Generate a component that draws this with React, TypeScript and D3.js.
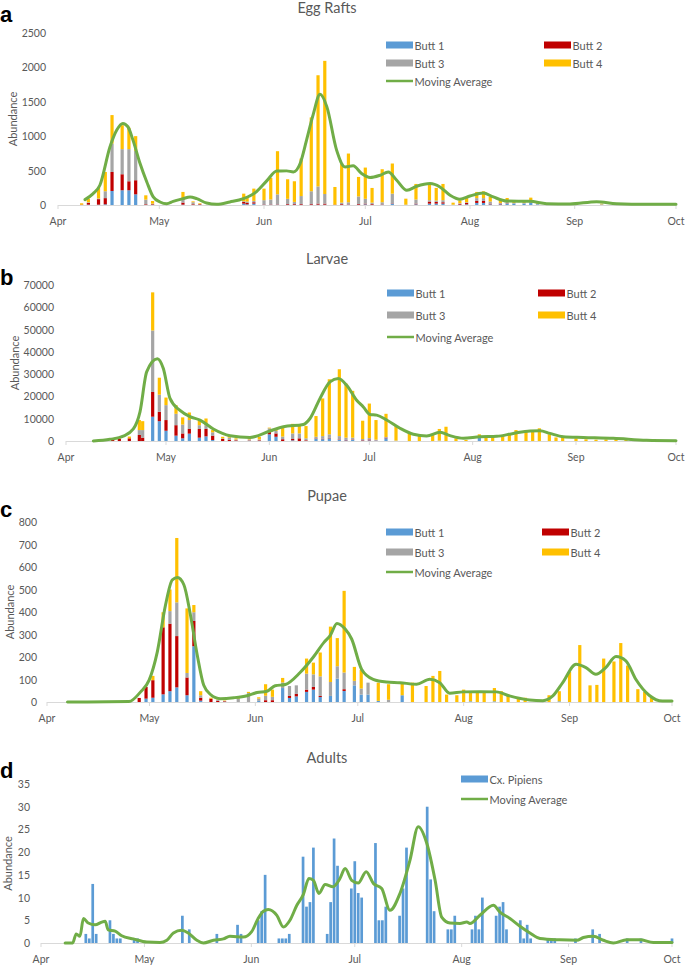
import * as d3 from "d3";

// season runs from 1 April to 1 October; all days are offsets from 1 April
const seasonStart = new Date(Date.UTC(2017, 3, 1));
const seasonEnd = new Date(Date.UTC(2017, 9, 1));

const buttNames = ["Butt 1", "Butt 2", "Butt 3", "Butt 4"];
const buttColors = ["#5B9BD5", "#C00000", "#A5A5A5", "#FFC000"];
const maColor = "#70AD47";
const textColor = "#595959";

// ---- a: egg rafts
const eggDays = [7, 9, 12, 14, 16, 19, 21, 23, 26, 28, 37, 40, 42, 55, 56, 58, 61, 63, 65, 68, 70, 72, 75, 77, 79, 82, 84, 86, 89, 91, 93, 96, 99, 103, 106, 110, 112, 114, 117, 119, 121, 124, 126, 128, 131, 133, 135, 138, 140, 142, 161, 166];
const eggB1 = [0, 5, 5, 10, 204, 214, 214, 155, 0, 0, 5, 0, 0, 20, 10, 20, 5, 5, 5, 5, 5, 5, 5, 5, 5, 0, 5, 5, 5, 10, 5, 5, 20, 0, 10, 20, 20, 20, 0, 5, 10, 30, 30, 10, 10, 20, 20, 20, 30, 10, 5, 5];
const eggB2 = [5, 25, 80, 90, 276, 233, 131, 205, 10, 10, 30, 10, 10, 25, 20, 20, 5, 5, 5, 10, 10, 10, 10, 15, 15, 5, 10, 5, 10, 10, 10, 5, 5, 0, 10, 30, 25, 20, 0, 10, 20, 30, 30, 10, 10, 5, 0, 0, 5, 0, 0, 0];
const eggB3 = [0, 10, 10, 100, 414, 365, 467, 427, 68, 10, 40, 30, 5, 10, 20, 20, 60, 70, 145, 75, 30, 115, 185, 250, 140, 0, 20, 30, 110, 70, 20, 30, 140, 5, 60, 20, 20, 30, 5, 10, 10, 40, 40, 30, 10, 20, 10, 10, 20, 10, 5, 5];
const eggB4 = [20, 52, 167, 280, 413, 348, 310, 214, 63, 38, 115, 13, 10, 110, 57, 178, 168, 314, 627, 284, 300, 545, 1073, 1616, 1935, 257, 568, 708, 283, 454, 213, 480, 438, 87, 226, 226, 183, 236, 29, 43, 62, 90, 99, 67, 38, 57, 14, 14, 52, 14, 10, 10];
const eggMaDays = [8, 10.4, 12.4, 15.4, 17.4, 19.2, 20.7, 22.2, 24.3, 26.3, 28.2, 30.2, 32.2, 34.1, 37, 39.1, 41.1, 44, 47, 50.9, 54.9, 58.8, 61.8, 64.8, 67.7, 69.7, 71.7, 73.6, 75.6, 77.6, 79.6, 82.5, 85, 87.4, 89.9, 92.4, 95.4, 97.8, 100.3, 103.3, 106.2, 110.2, 113.1, 116.1, 119, 122, 125.9, 128.9, 132.9, 139.8, 144.7, 151.6, 159.5, 165.4, 174.3, 183];
const eggMa = [78, 165, 287, 846, 1089, 1186, 1137, 943, 603, 335, 117, 44, 19, 53, 92, 117, 92, 29, 10, 44, 92, 195, 350, 495, 496, 481, 603, 943, 1320, 1609, 1430, 797, 554, 569, 457, 399, 433, 481, 360, 214, 272, 311, 262, 141, 83, 131, 175, 117, 58, 53, 19, 15, 49, 19, 10, 10];

// ---- b: larvae
const larvaDays = [14, 16, 19, 22, 23, 26, 28, 30, 33, 35, 37, 40, 42, 44, 47, 49, 51, 55, 58, 61, 63, 65, 68, 70, 72, 75, 77, 79, 82, 84, 86, 89, 91, 93, 96, 99, 103, 106, 110, 112, 114, 117, 120, 124, 126, 128, 131, 133, 135, 138, 140, 142, 145, 147, 149, 153, 156, 159, 162, 165, 168];
const larvaB1 = [0, 0, 0, 0, 0, 10900, 8900, 4600, 2400, 1200, 3300, 1500, 2100, 450, 0, 0, 0, 0, 0, 3000, 1900, 0, 300, 0, 0, 900, 800, 1200, 500, 300, 500, 200, 300, 200, 1200, 0, 0, 0, 0, 0, 0, 0, 0, 1500, 0, 0, 0, 0, 0, 0, 0, 0, 0, 0, 0, 0, 0, 0, 0, 0, 0];
const larvaB2 = [450, 1000, 1200, 2700, 1500, 11100, 4200, 4800, 4700, 2200, 2100, 3900, 3300, 1950, 900, 500, 300, 200, 300, 1200, 1500, 800, 600, 1200, 300, 200, 200, 200, 200, 200, 200, 200, 400, 100, 300, 0, 0, 0, 0, 0, 0, 0, 0, 0, 0, 0, 0, 0, 0, 0, 0, 0, 0, 0, 0, 0, 0, 0, 0, 0, 0];
const larvaB3 = [0, 0, 0, 2200, 3400, 27600, 7700, 6700, 5100, 4000, 4000, 1700, 1700, 1500, 300, 1000, 400, 500, 400, 1500, 1100, 1200, 2500, 2200, 900, 800, 1200, 1600, 1500, 1000, 800, 500, 600, 300, 300, 200, 0, 0, 0, 200, 0, 0, 0, 0, 0, 0, 0, 0, 0, 0, 0, 0, 0, 0, 0, 0, 0, 0, 0, 0, 0];
const larvaB4 = [0, 200, 800, 4500, 4000, 17100, 7600, 3400, 3900, 3200, 3400, 2300, 3000, 1000, 700, 900, 500, 500, 1200, 300, 400, 4000, 4300, 4000, 5500, 9300, 16900, 24700, 30000, 24300, 21000, 8200, 15500, 8800, 10400, 6500, 3900, 2400, 3000, 5200, 6400, 1200, 500, 1500, 2400, 2400, 2400, 3000, 4900, 4800, 4600, 5700, 3000, 1600, 1600, 1200, 750, 600, 700, 800, 500];
const larvaMaDays = [8.2, 13.2, 17.2, 20.2, 22.2, 24.2, 27.4, 29.2, 31.2, 34.2, 37.2, 40.2, 44.2, 49.2, 55.2, 61.2, 65.2, 71.2, 73.2, 76.2, 79.2, 81.7, 84.2, 87.2, 89.2, 91.2, 93.2, 96.2, 100.2, 104.2, 108.2, 112.2, 115.2, 119.2, 124.2, 129.2, 134.2, 139.2, 142.2, 145.2, 149.2, 155.2, 164.2, 174.2, 183];
const larvaMa = [0, 750, 2200, 5400, 13100, 31000, 36900, 32500, 19100, 13700, 10900, 9400, 5400, 2400, 1600, 4500, 6400, 7400, 10100, 19100, 26500, 28000, 25000, 18300, 15300, 11900, 11600, 9400, 5700, 3000, 2200, 3900, 2400, 1200, 1900, 2100, 3400, 4500, 4600, 3400, 1900, 1600, 1200, 300, 100];

// ---- c: pupae
const pupaDays = [27, 29, 31, 34, 36, 38, 41, 43, 45, 48, 50, 52, 56, 59, 62, 64, 66, 69, 71, 73, 76, 78, 80, 83, 85, 87, 90, 92, 94, 97, 100, 104, 107, 111, 113, 115, 117, 120, 122, 124, 126, 128, 131, 133, 135, 138, 140, 145, 147, 150, 153, 156, 159, 161, 163, 166, 168, 170, 173, 175, 177];
const pupaB1 = [0, 15, 19, 34, 48, 65, 30, 248, 6, 0, 0, 0, 0, 0, 5, 0, 0, 62, 18, 25, 45, 55, 22, 27, 104, 49, 74, 33, 33, 5, 0, 30, 0, 0, 0, 0, 0, 0, 0, 3, 0, 0, 3, 0, 0, 0, 0, 0, 0, 3, 0, 0, 0, 0, 0, 0, 0, 0, 0, 0, 0];
const pupaB2 = [18, 52, 78, 298, 300, 228, 79, 112, 13, 15, 5, 3, 0, 0, 0, 8, 8, 0, 9, 11, 10, 12, 5, 0, 0, 8, 0, 0, 0, 0, 0, 0, 0, 0, 0, 0, 0, 0, 0, 0, 0, 0, 0, 0, 0, 0, 0, 0, 0, 0, 0, 0, 0, 0, 0, 0, 0, 0, 0, 0, 0];
const pupaB3 = [0, 0, 0, 0, 56, 150, 20, 39, 11, 0, 5, 2, 15, 40, 10, 20, 15, 25, 44, 38, 71, 56, 87, 62, 55, 74, 20, 27, 53, 0, 10, 0, 0, 0, 0, 0, 0, 0, 0, 0, 0, 0, 0, 0, 0, 0, 0, 0, 0, 0, 0, 0, 0, 0, 0, 0, 0, 0, 0, 0, 0];
const pupaB4 = [0, 0, 19, 67, 96, 286, 287, 32, 18, 4, 2, 2, 3, 5, 6, 51, 32, 20, 0, 0, 67, 52, 106, 246, 125, 363, 62, 83, 0, 81, 69, 56, 86, 71, 116, 138, 33, 30, 55, 42, 48, 45, 59, 48, 33, 19, 19, 5, 30, 45, 134, 253, 74, 76, 193, 180, 262, 162, 57, 45, 27];
const pupaMaDays = [6, 24, 27.4, 29.9, 32.3, 34.7, 36.7, 38.2, 40.1, 42, 44, 45.9, 47.9, 50.8, 54.7, 58.6, 61.5, 64.4, 66.8, 69.8, 74.1, 78, 81.1, 82.9, 84.9, 87.3, 89.2, 92.1, 95.5, 99.4, 103.3, 108.2, 112.1, 115, 117.9, 121.8, 126.7, 131.6, 135.4, 141.3, 145.2, 148.1, 151, 154.9, 157.8, 160.7, 163.6, 166.6, 169.5, 172.4, 176.3, 180.2, 183];
const pupaMa = [0, 2, 45, 97, 223, 431, 543, 553, 520, 387, 208, 74, 33, 15, 19, 28, 42, 48, 72, 78, 131, 200, 265, 295, 349, 324, 280, 146, 101, 89, 86, 79, 101, 86, 39, 45, 46, 45, 27, 9, 6, 27, 86, 168, 153, 123, 153, 202, 183, 101, 30, 4, 4];

// ---- d: adults
const adultDays = [13, 14, 15, 16, 20, 21, 22, 23, 27, 28, 41, 43, 51, 57, 58, 63, 64, 65, 69, 70, 71, 72, 76, 77, 78, 79, 83, 84, 85, 86, 90, 91, 92, 93, 97, 98, 99, 100, 104, 105, 106, 112, 113, 114, 118, 119, 120, 125, 126, 127, 128, 132, 133, 134, 135, 139, 140, 141, 142, 147, 148, 149, 155, 160, 162, 170, 174, 183];
const adultCount = [2, 1, 13, 2, 5, 2, 1, 1, 1, 1, 6, 3, 2, 4, 2, 5, 7, 15, 1, 1, 1, 2, 19, 8, 9, 21, 2, 9, 23, 17, 12, 18, 11, 10, 22, 5, 5, 8, 6, 12, 21, 30, 14, 7, 3, 3, 6, 3, 6, 3, 10, 6, 8, 9, 3, 5, 1, 4, 1, 1, 1, 1, 1, 3, 2, 1, 1, 1];
const adultMaDays = [7, 9.2, 10.2, 11.3, 12.3, 13.7, 15.7, 17.6, 18.6, 19.5, 21.5, 23.4, 26.8, 30.7, 34.5, 36.5, 38.4, 40.8, 42.7, 45.2, 47.1, 50, 52.9, 54.8, 58.7, 61.1, 62.9, 64.5, 65.9, 68.4, 70.3, 72.2, 74.2, 76.1, 77.7, 79, 80.6, 82.4, 84.7, 86.7, 88.2, 90.1, 92, 94.3, 96.4, 98.8, 101.2, 104.1, 107, 109.4, 111.9, 114.3, 116.2, 118.6, 121.5, 123.5, 124.4, 127.3, 131.2, 133.1, 136, 138.9, 141.8, 144.7, 150.5, 155.4, 157.3, 160.2, 163.1, 166, 169.9, 173.7, 177.6, 183];
const adultMa = [0, 0, 2, 1.5, 5.4, 4.4, 4, 4.6, 4.8, 2.9, 2.6, 1.6, 0.9, 0.2, 0.1, 0.6, 2.2, 2.8, 2.2, 0.6, 0, 0.6, 0.9, 1.5, 1.3, 2.5, 5.3, 7, 7.4, 6.1, 3.5, 5, 8.3, 10.7, 14.2, 13.8, 10.9, 12.9, 12.4, 14.2, 16.4, 13.8, 13.2, 15.7, 13.1, 12, 7.2, 10.9, 18.2, 25.6, 21.9, 13.8, 5.7, 4.4, 4.3, 4.6, 4.3, 6.1, 8.3, 6.8, 5.4, 3.7, 2.2, 1, 0.7, 0.6, 1.2, 1.5, 0.6, 0, 0.7, 0.7, 0.1, 0.1];

const toDate = (d: number) => new Date(seasonStart.getTime() + d * 864e5);
const font = "Lato, 'Open Sans', sans-serif";

type Layout = {
  letter: string;
  title: string;
  x0: number;
  x1: number;
  yBase: number;
  yTop: number;
  yMax: number;
  step: number;
  tickRight: number;
  labelX: number;
  titleY: number;
  letterY: number;
  monthY: number;
  rows: number[];
  cols: number[];
  barW: number;
};

type PanelProps = {
  L: Layout;
  days: number[];
  series: number[][];
  names: string[];
  colors: string[];
  maDays: number[];
  ma: number[];
};

function Panel({ L, days, series, names, colors, maDays, ma }: PanelProps) {
  const x = d3.scaleUtc().domain([seasonStart, seasonEnd]).range([L.x0, L.x1]);
  const y = d3.scaleLinear().domain([0, L.yMax]).range([L.yBase, L.yTop]);

  const keys = series.map((_, k) => "s" + k);
  const rows = days.map((d, i) => {
    const r: any = { day: d };
    series.forEach((s, k) => (r["s" + k] = s[i]));
    return r;
  });
  const stacked = d3.stack<any>().keys(keys)(rows);

  const line = d3
    .line<number>()
    .x((_, i) => x(toDate(maDays[i])))
    .y((d) => y(d))
    .curve(d3.curveMonotoneX);

  const months = d3.utcMonth.range(seasonStart, d3.utcDay.offset(seasonEnd, 1));
  const fmt = d3.utcFormat("%b");
  const yTicks = d3.range(0, L.yMax + L.step / 2, L.step);

  // legend entries: bar series then the moving average, filled row by row
  const legend = [
    ...names.map((n, k) => ({ name: n, color: colors[k], kind: "bar" })),
    { name: "Moving Average", color: maColor, kind: "line" },
  ];
  const nCols = L.cols.length;

  return (
    <g>
      <text x={0} y={L.letterY} fontFamily="'Liberation Sans', Arial, sans-serif" fontWeight="bold" fontSize={22} fill="#000">
        {L.letter}
      </text>
      <text x={327} y={L.titleY} textAnchor="middle" fontFamily={font} fontSize={14.5} fill={textColor}>
        {L.title}
      </text>
      <text
        transform={`translate(${L.labelX},${(L.yBase + L.yTop) / 2}) rotate(-90)`}
        textAnchor="middle"
        dominantBaseline="central"
        fontFamily={font}
        fontSize={11}
        fill={textColor}
      >
        Abundance
      </text>

      {yTicks.map((t) => (
        <text key={t} x={L.tickRight} y={y(t)} textAnchor="end" dominantBaseline="central" fontFamily={font} fontSize={10.5} fill={textColor}>
          {t}
        </text>
      ))}

      {stacked.map((layer, k) => (
        <g key={layer.key} fill={colors[k]}>
          {layer.map((d, i) =>
            d[1] > d[0] ? (
              <rect
                key={i}
                x={x(toDate(d.data.day)) - L.barW / 2}
                y={y(d[1])}
                width={L.barW}
                height={y(d[0]) - y(d[1])}
              />
            ) : null
          )}
        </g>
      ))}

      <line x1={L.x0} x2={L.x1} y1={L.yBase + 0.5} y2={L.yBase + 0.5} stroke="#D9D9D9" />
      {months.map((m) => (
        <g key={m.getTime()}>
          <line x1={x(m)} x2={x(m)} y1={L.yBase} y2={L.yBase + 4} stroke="#D9D9D9" />
          <text x={x(m)} y={L.monthY} textAnchor="middle" dominantBaseline="central" fontFamily={font} fontSize={10.5} fill={textColor}>
            {fmt(m)}
          </text>
        </g>
      ))}

      <path d={line(ma) || ""} fill="none" stroke={maColor} strokeWidth={3} strokeLinejoin="round" strokeLinecap="round" />

      {legend.map((e, i) => {
        const cx = L.cols[i % nCols];
        const cy = L.rows[Math.floor(i / nCols)];
        return (
          <g key={e.name}>
            {e.kind === "bar" ? (
              <rect x={cx} y={cy - 3.5} width={27} height={7} fill={e.color} />
            ) : (
              <line x1={cx} x2={cx + 27} y1={cy} y2={cy} stroke={e.color} strokeWidth={2.5} />
            )}
            <text x={cx + 28.5} y={cy} dominantBaseline="central" fontFamily={font} fontSize={11} fill={textColor}>
              {e.name}
            </text>
          </g>
        );
      })}
    </g>
  );
}

const eggLayout: Layout = {
  letter: "a", title: "Egg Rafts", x0: 58, x1: 676, yBase: 205, yTop: 33, yMax: 2500, step: 500,
  tickRight: 46, labelX: 12, titleY: 13, letterY: 21.5, monthY: 221, rows: [45, 63, 81], cols: [386, 544], barW: 3.2,
};
const larvaLayout: Layout = {
  letter: "b", title: "Larvae", x0: 66, x1: 676, yBase: 441, yTop: 285, yMax: 70000, step: 10000,
  tickRight: 54, labelX: 14, titleY: 264, letterY: 285, monthY: 457, rows: [293, 315, 337], cols: [387, 538], barW: 3.2,
};
const pupaLayout: Layout = {
  letter: "c", title: "Pupae", x0: 47, x1: 672, yBase: 702, yTop: 522, yMax: 800, step: 100,
  tickRight: 37, labelX: 9, titleY: 501, letterY: 517, monthY: 718, rows: [532, 552, 572], cols: [386, 542], barW: 3.2,
};
const adultLayout: Layout = {
  letter: "d", title: "Adults", x0: 41, x1: 672, yBase: 943, yTop: 784, yMax: 35, step: 5,
  tickRight: 30, labelX: 7, titleY: 763, letterY: 778, monthY: 959, rows: [779, 799], cols: [461], barW: 2.7,
};

export default function App() {
  return (
    <svg width={685} height={966} style={{ position: "absolute", left: 0, top: 0, background: "#fff" }}>
      <Panel L={eggLayout} days={eggDays} series={[eggB1, eggB2, eggB3, eggB4]} names={buttNames} colors={buttColors} maDays={eggMaDays} ma={eggMa} />
      <Panel L={larvaLayout} days={larvaDays} series={[larvaB1, larvaB2, larvaB3, larvaB4]} names={buttNames} colors={buttColors} maDays={larvaMaDays} ma={larvaMa} />
      <Panel L={pupaLayout} days={pupaDays} series={[pupaB1, pupaB2, pupaB3, pupaB4]} names={buttNames} colors={buttColors} maDays={pupaMaDays} ma={pupaMa} />
      <Panel L={adultLayout} days={adultDays} series={[adultCount]} names={["Cx. Pipiens"]} colors={["#5B9BD5"]} maDays={adultMaDays} ma={adultMa} />
    </svg>
  );
}
